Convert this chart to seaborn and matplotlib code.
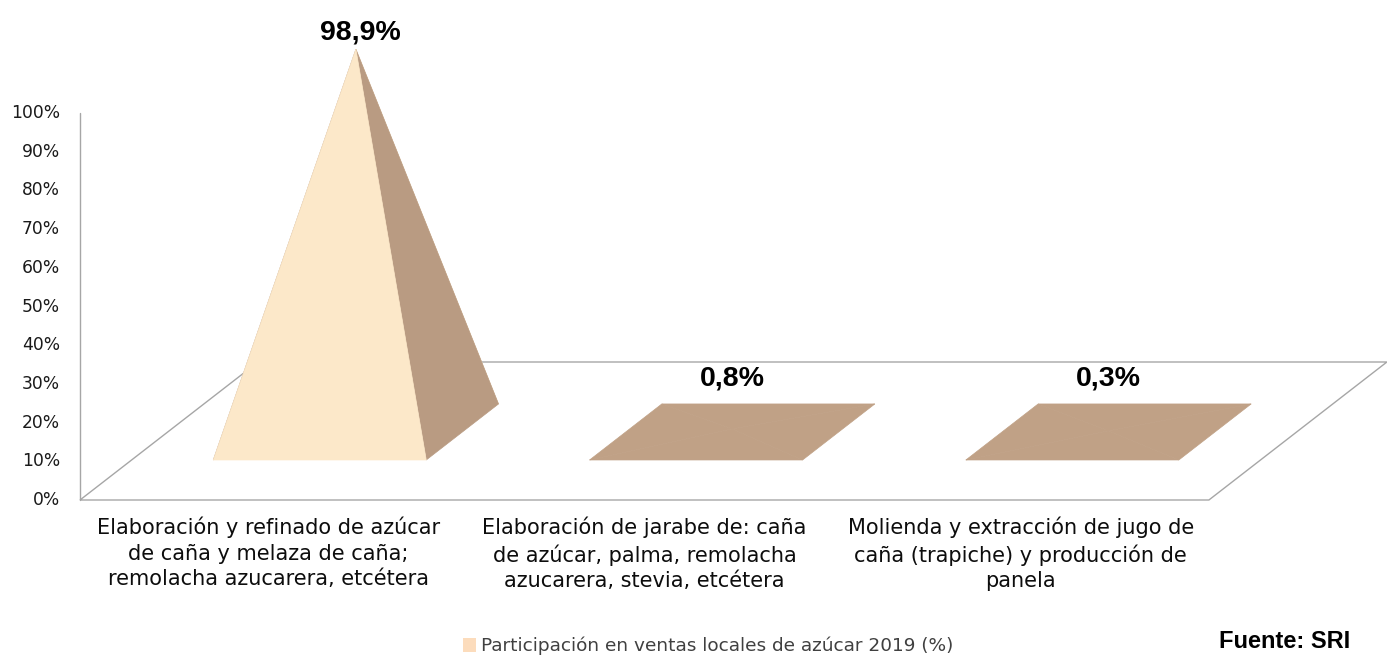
"""
Pyramid chart: participacion en ventas locales de azucar 2019
Pseudo-3D pyramids drawn with seaborn styling and matplotlib patches
"""

import numpy as np
import matplotlib
matplotlib.use("Agg")
import matplotlib.pyplot as plt
from matplotlib.patches import Polygon, Patch
import seaborn as sns

sns.set_theme(style="white")
plt.rcParams['font.family'] = ['DejaVu Sans']

# Data
categories = [
    "Elaboración y refinado de azúcar\nde caña y melaza de caña;\nremolacha azucarera, etcétera",
    "Elaboración de jarabe de: caña\nde azúcar, palma, remolacha\nazucarera, stevia, etcétera",
    "Molienda y extracción de jugo de\ncaña (trapiche) y producción de\npanela",
]
values = [98.9, 0.8, 0.3]
value_labels = ["98,9%", "0,8%", "0,3%"]
y_ticks = [0, 10, 20, 30, 40, 50, 60, 70, 80, 90, 100]
series_name = "Participación en ventas locales de azúcar 2019 (%)"
source_note = "Fuente: SRI"

# Colours
LIGHT = np.array([253, 233, 202]) / 255   # faces turned to the viewer
SIDE = np.array([184, 155, 130]) / 255    # faces turned sideways
TOP = np.array([192, 161, 134]) / 255     # faces turned upwards
LINE = "#a6a6a6"
LEGEND_SWATCH = "#fcdcbc"

# Oblique projection (x in category units, y in percent, d = depth 0..1)
W, H = 1387, 655
PX = 376.3           # pixels per category
PY = 3.87            # pixels per percent
X0, Y0 = 80, 500     # pixel of origin (front-left floor corner)
DX = 178 / PX        # depth shift in category units
DY = 138 / PY        # depth shift in percent units
DEPTH_PX = 225       # pseudo length of the depth axis (for shading)

HALF_W = 0.283       # half width of a pyramid base
D0, D1 = 0.29, 0.696 # front/back of a pyramid base
DM = (D0 + D1) / 2


def proj(x, y, d):
    return (x + d * DX, y + d * DY)


def face_color(p0, p1, p2):
    """Simple shading: mix colours by the squared normal components"""
    to3d = lambda p: np.array([p[0] * PX, p[1] * PY, -p[2] * DEPTH_PX])
    a, b, c = to3d(p0), to3d(p1), to3d(p2)
    n = np.cross(b - a, c - a)
    n = n / np.linalg.norm(n)
    w = n ** 2
    col = w[0] * SIDE + w[1] * TOP + w[2] * LIGHT
    return np.clip(col, 0, 1)


fig = plt.figure(figsize=(W / 100, H / 100), dpi=100)
ax = fig.add_axes([0, 0, 1, 1])
ax.set_xlim(-X0 / PX, (W - X0) / PX)
ax.set_ylim(-(H - Y0) / PY, Y0 / PY)
ax.axis('off')

n_cat = len(categories)

# Floor outline and value axis
floor = [proj(0, 0, 0), proj(n_cat, 0, 0), proj(n_cat, 0, 1), proj(0, 0, 1)]
ax.add_patch(Polygon(floor, closed=True, fill=False, edgecolor=LINE, lw=1.0, zorder=1))
ax.plot([0, 0], [0, y_ticks[-1]], color=LINE, lw=1.0, zorder=1)

for t in y_ticks:
    ax.text(-20 / PX, t, f"{t}%", ha='right', va='center', fontsize=12.3, color='#1a1a1a')

# Pyramids
for i, (v, lab) in enumerate(zip(values, value_labels)):
    c = i + 0.5
    fl = (c - HALF_W, 0, D0)
    fr = (c + HALF_W, 0, D0)
    bl = (c - HALF_W, 0, D1)
    br = (c + HALF_W, 0, D1)
    apex = (c, v, DM)
    faces = [(br, bl, apex), (bl, fl, apex), (fr, br, apex), (fl, fr, apex)]
    for f in faces:
        col = face_color(*f)
        pts = [proj(*p) for p in f]
        ax.add_patch(Polygon(pts, closed=True, facecolor=col, edgecolor=col, lw=0.5, zorder=3))

    lx, ly = proj(*apex)
    back_y = proj(*bl)[1]
    base_line = max(ly + 10 / PY, back_y + 18 / PY)
    ax.text(lx + (4 if v > 50 else 0) / PX, base_line, lab, ha='center', va='baseline',
            fontsize=20.5, fontweight='bold', family=['Liberation Sans', 'DejaVu Sans'],
            color='black', zorder=5)

# Category labels along the front edge
for i, cat in enumerate(categories):
    ax.text(i + 0.5, -17 / PY, cat, ha='center', va='top', fontsize=15,
            linespacing=1.32, color='#0d0d0d')

# Legend and source
handle = Patch(facecolor=LEGEND_SWATCH, edgecolor='none')
fig.legend([handle], [series_name], loc='center', bbox_to_anchor=(708 / W, 1 - 646 / H),
           frameon=False, fontsize=13.3, handlelength=0.75, handleheight=0.75,
           handletextpad=0.25, labelcolor='#404040')
fig.text(1350 / W, 1 - 642 / H, source_note, ha='right', va='center', fontsize=17,
         fontweight='bold', family=['Liberation Sans', 'DejaVu Sans'], color='black')

fig.savefig("out.png", dpi=100)
